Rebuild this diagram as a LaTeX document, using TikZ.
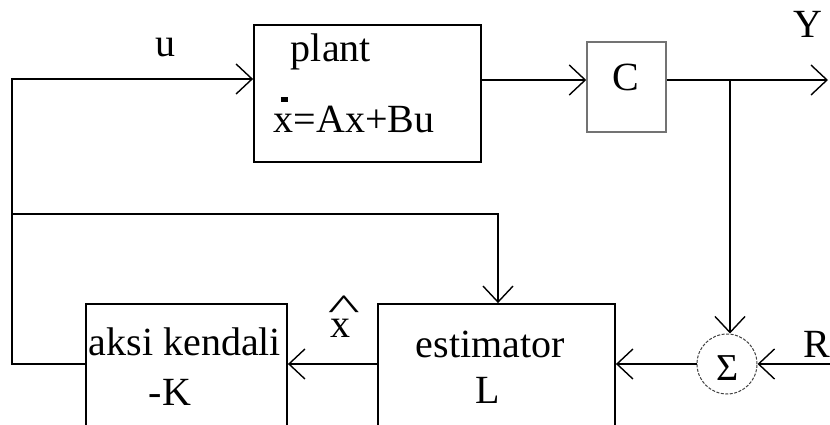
\documentclass[tikz,border=0pt]{standalone}
\usepackage{fontspec}
\setmainfont{Liberation Serif}
\usetikzlibrary{arrows.meta}
\begin{document}
\begin{tikzpicture}[x=1pt,y=-1pt,
  line width=1.8pt,
  arr/.style={-{Straight Barb[length=16pt,width=30pt,line width=1.4pt]}},
  blk/.style={draw, line width=1.8pt, inner sep=0pt},
  lbl/.style={inner sep=0pt, anchor=base west, font=\fontsize{40}{44}\selectfont}]
\useasboundingbox (0,0) rectangle (830,425);
\clip (0,0) rectangle (830,425);
% blocks
\node[blk, minimum width=227pt, minimum height=137pt] (plant) at (367.5,93.5) {};
\node[blk, draw=black!55, line width=1.5pt, minimum width=79pt, minimum height=90pt] (C) at (626.5,87) {};
\node[blk, minimum width=201pt, minimum height=140pt] (aksi) at (186.5,374) {};
\node[blk, minimum width=237pt, minimum height=140pt] (est) at (496.5,374) {};
\node[circle, draw=black!75, line width=1pt, dash pattern=on 3pt off 1.5pt, minimum size=60pt, inner sep=0pt] (sig) at (727,364) {};
% texts
\node[lbl] (tu) at (155,57) {u};
\node[lbl] (ty) at (793,38) {Y};
\node[lbl] (tplant) at (290,62) {plant};
\node[lbl] (teq) at (273,133) {\makebox[0pt][l]{\hspace{7pt}\raisebox{31pt}{\rule{7pt}{5pt}}}x=Ax+Bu};
\node[lbl] (tc) at (612,91) {C};
\node[lbl] (txh) at (330,337) {\makebox[0pt][l]{\hspace{-3pt}\raisebox{18pt}{\scalebox{1.7}[0.9]{\^{}}}}x};
\node[lbl] (taksi) at (88,355) {aksi kendali};
\node[lbl] (tk) at (148,405) {-K};
\node[lbl] (test) at (415,357) {estimator};
\node[lbl] (tl) at (475,403) {L};
\node[lbl] (tr) at (803,357) {R};
\node[inner sep=0pt, font=\fontsize{38}{40}\selectfont] (tsig) at (728,368) {Σ};
% coordinates
\coordinate (lb) at (12,364);
\coordinate (lt) at (12,79);
\coordinate (fb) at (12,214);
\coordinate (br) at (730,80);
\coordinate (yout) at (828,80);
\coordinate (rin) at (830,364);
% connectors
\draw[arr] (aksi.west |- sig.west) -- (lb) -- (lt) -- (plant.west |- lt);
\draw[arr] (fb) -- (fb -| 498,0) -- (498,0 |- est.north);
\draw[arr] (plant.east |- br) -- (C.west |- br);
\draw[arr] (C.east |- br) -- (yout);
\draw[arr] (br) -- (br |- sig.north);
\draw[arr] (rin) -- (sig.east);
\draw[arr] (sig.west) -- (sig.west -| est.east);
\draw[arr] (est.west |- sig.west) -- (aksi.east |- sig.west);
\end{tikzpicture}
\end{document}
